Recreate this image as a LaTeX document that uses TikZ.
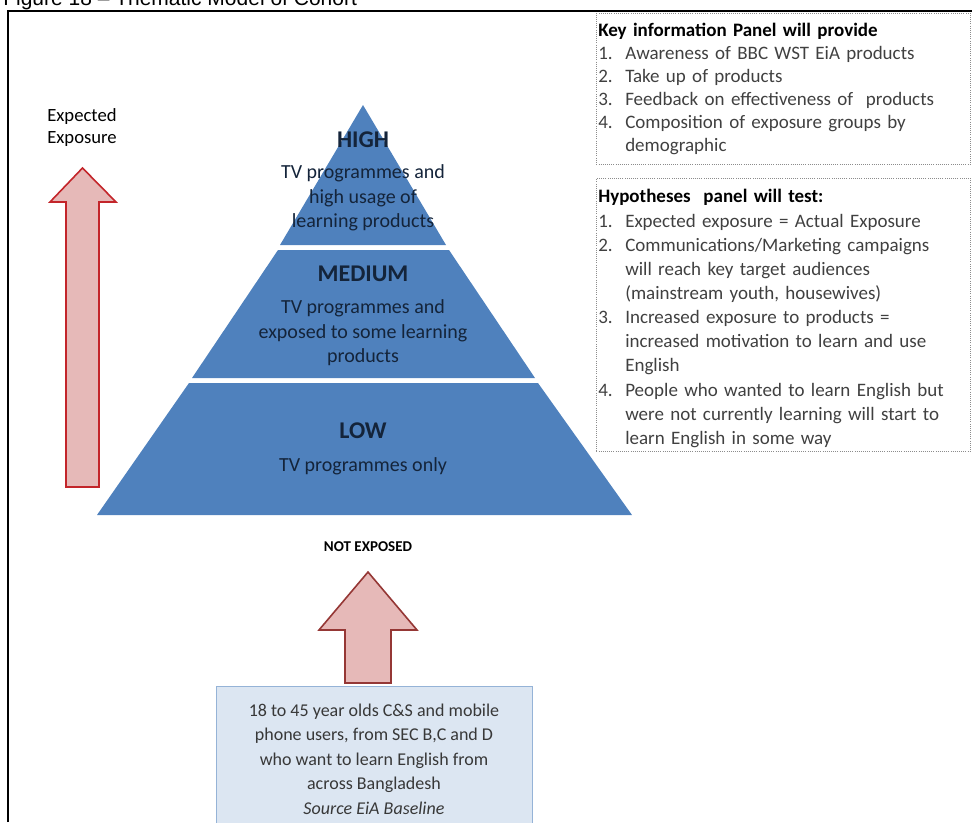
\documentclass[tikz,border=0pt]{standalone}
\usepackage{fontspec}
\setmainfont{Carlito}
\newfontfamily\captionfont{Liberation Sans}
\usetikzlibrary{positioning}
\definecolor{tierblue}{HTML}{4F81BD}
\definecolor{tierink}{HTML}{14243A}
\definecolor{arrowfill}{HTML}{E6B9B8}
\definecolor{arrowred}{HTML}{C3252A}
\definecolor{arrowdark}{HTML}{953735}
\definecolor{cohortfill}{HTML}{DCE6F2}
\definecolor{cohortline}{HTML}{95B3D7}
\definecolor{panelline}{HTML}{8C8C8C}
% numbered line of a panel, hanging under its text
\newcommand{\panelitem}[2]{\par\noindent\hangindent=20.25pt\hangafter=1%
  \makebox[20.25pt][l]{#1}#2}
\tikzset{
  % outer frame of the figure
  frame/.style={draw=black, line width=1.5pt},
  caption/.style={anchor=base west, inner sep=0pt,
    font=\captionfont\fontsize{15.75}{18}\selectfont},
  % pyramid tiers
  tier/.style={fill=tierblue, draw=none},
  tierlabel/.style={inner sep=0pt, text=tierink,
    font=\bfseries\fontsize{18}{21}\selectfont},
  tierdesc/.style={inner sep=0pt, align=center, text=tierink,
    font=\fontsize{15}{18.4}\selectfont},
  % block arrows
  blockarrow/.style={fill=arrowfill, line width=1.2pt, line join=miter},
  % side panels
  panel/.style={draw=panelline, densely dotted, line width=0.6pt,
    anchor=north west, minimum width=280.5pt, inner sep=0pt},
  paneltext/.style={inner sep=0pt, align=left, text width=290pt,
    text=black!75, font=\fontsize{14.25}{17.25}\selectfont},
  % target group box
  cohort/.style={draw=cohortline, fill=cohortfill, line width=0.6pt,
    minimum width=237pt, minimum height=109.5pt, align=center,
    text=black!78, font=\fontsize{13.5}{18.4}\selectfont},
}
\begin{document}
\begin{tikzpicture}[x=0.75pt, y=-0.75pt]
  \useasboundingbox (0,0) rectangle (972,822);

  % caption, cut off by the top edge
  \begin{scope}
    \clip (0,0) rectangle (972,11);
    \node[caption] (title) at (3,5.5) {Figure 18 – Thematic Model of Cohort};
  \end{scope}
  \draw[frame] (8,822) -- (8,11) -- (972,11);

  % pyramid
  \fill[tier] (363,105) -- (446,245) -- (280,245) -- cycle;
  \fill[tier] (278,250) -- (449,250) -- (535,378) -- (192,378) -- cycle;
  \fill[tier] (189,383) -- (538,383) -- (632,515) -- (97,515) -- cycle;

  \node[tierlabel] (high) at (363,140) {HIGH};
  \node[tierdesc] (highdesc) at (363,198)
    {TV programmes and\\high usage of\\learning products};
  \node[tierlabel] (medium) at (363,274) {MEDIUM};
  \node[tierdesc] (mediumdesc) at (363,333)
    {TV programmes and\\exposed to some learning\\products};
  \node[tierlabel] (low) at (363,431) {LOW};
  \node[tierdesc] (lowdesc) at (363,466) {TV programmes only};

  % expected exposure
  \node[anchor=west, align=left, inner sep=0pt,
    font=\fontsize{14}{16.5}\selectfont] (expected) at (47,128)
    {Expected\\Exposure};
  \draw[blockarrow, draw=arrowred] (66,487) -- (66,202) -- (50,202)
    -- (82.5,168) -- (116,202) -- (99,202) -- (99,487) -- cycle;

  % not exposed and the cohort
  \node[inner sep=0pt, font=\bfseries\fontsize{11.25}{13}\selectfont]
    (notexposed) at (368,547) {NOT EXPOSED};
  \draw[blockarrow, draw=arrowdark] (345,683) -- (345,630) -- (319,630)
    -- (368,572) -- (417,630) -- (391,630) -- (391,683) -- cycle;
  \node[cohort] (cohortbox) at (374,759)
    {18 to 45 year olds C\&S and mobile\\phone users, from SEC B,C and D\\
     who want to learn English from\\across Bangladesh\\
     \textit{Source EiA Baseline}};

  % key information panel
  \node[panel, minimum height=113.25pt] (keypanel) at (596,13) {};
  \node[paneltext, below right=7.5pt and 1.5pt of keypanel.north west]
    (keytext) {{\bfseries\color{black}Key information Panel will provide}
    \panelitem{1.}{Awareness of BBC WST EiA products}
    \panelitem{2.}{Take up of products}
    \panelitem{3.}{Feedback on effectiveness of\ \ products}
    \panelitem{4.}{Composition of exposure groups by\newline demographic}\par};

  % hypotheses panel
  \node[panel, minimum height=204.75pt] (hyppanel) at (596,178) {};
  \node[paneltext, font=\fontsize{14.25}{18.1}\selectfont,
    below right=8.5pt and 1.5pt of hyppanel.north west]
    (hyptext) {{\bfseries\color{black}Hypotheses\ \ panel will test:}
    \panelitem{1.}{Expected exposure = Actual Exposure}
    \panelitem{2.}{Communications/Marketing campaigns\newline
      will reach key target audiences\newline (mainstream youth, housewives)}
    \panelitem{3.}{Increased exposure to products =\newline
      increased motivation to learn and use\newline English}
    \panelitem{4.}{People who wanted to learn English but\newline
      were not currently learning will start to\newline learn English in some way}\par};
\end{tikzpicture}
\end{document}
